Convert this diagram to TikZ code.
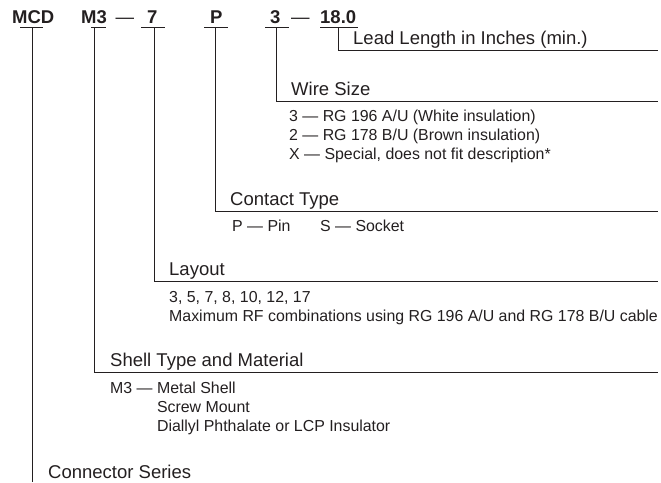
\documentclass[tikz,border=0pt]{standalone}
\usepackage{xcolor}
\usepackage{fontspec}
\setmainfont{Liberation Sans}
\usepackage{tikz}
\usetikzlibrary{positioning}
\definecolor{ink}{HTML}{231F20}

\begin{document}
\begin{tikzpicture}[
  x=1pt, y=-1pt,
  every node/.style={inner sep=0pt, anchor=base west, text=ink},
  code/.style={font=\fontsize{18.5}{22}\selectfont\bfseries},
  head/.style={font=\fontsize{18.5}{22}\selectfont},
  item/.style={font=\fontsize{15.9}{19}\selectfont},
  next/.style={below=19pt of #1.base west, anchor=base west},
  rule/.style={draw=ink, line width=1pt},
]
  \useasboundingbox (0,0) rectangle (661,482);

  % part number
  \node[code] (mcd)   at (12,23)    {MCD};
  \node[code] (m3)    at (81,23)    {M3};
  \node[head] (dsh1)  at (115.5,23) {—};
  \node[code] (seven) at (147,23)   {7};
  \node[code] (pin)   at (210,23)   {P};
  \node[code] (three) at (270,23)   {3};
  \node[head] (dsh2)  at (291,23)   {—};
  \node[code] (len)   at (320,23)   {18.0};

  \draw[rule] (20,27)  -- (43,27);
  \draw[rule] (91,27)  -- (106,27);
  \draw[rule] (141,27) -- (165,27);
  \draw[rule] (204,27) -- (228,27);
  \draw[rule] (265,27) -- (289,27);
  \draw[rule] (320,27) -- (358,27);

  \coordinate (t-mcd)   at (32,27);
  \coordinate (t-m3)    at (94,27);
  \coordinate (t-seven) at (154,27);
  \coordinate (t-pin)   at (215,27);
  \coordinate (t-three) at (276,27);
  \coordinate (t-len)   at (338,27);

  \coordinate (e-len)     at (658,50);
  \coordinate (e-wire)    at (658,101);
  \coordinate (e-contact) at (658,211);
  \coordinate (e-layout)  at (658,281);
  \coordinate (e-shell)   at (658,372);
  \coordinate (e-series)  at (32,482);

  \draw[rule] (t-len)   |- (e-len);
  \draw[rule] (t-three) |- (e-wire);
  \draw[rule] (t-pin)   |- (e-contact);
  \draw[rule] (t-seven) |- (e-layout);
  \draw[rule] (t-m3)    |- (e-shell);
  \draw[rule] (t-mcd)   -- (e-series);

  % lead length
  \node[head] (len-h) at (353,44.5) {Lead Length in Inches (min.)};

  % wire size
  \node[head] (wire-h) at (291,95.5) {Wire Size};
  \node[item] (w1) at (289,121.5) {3 — RG 196 A/U (White insulation)};
  \node[item, next=w1] (w2) {2 — RG 178 B/U (Brown insulation)};
  \node[item, next=w2] (w3) {X — Special, does not fit description*};

  % contact type
  \node[head] (contact-h) at (230,205.5) {Contact Type};
  \node[item] (c1) at (232,231) {P — Pin};
  \node[item] (c2) at (320,231) {S — Socket};

  % layout
  \node[head] (layout-h) at (169,275.5) {Layout};
  \node[item] (l1) at (169,302.5) {3, 5, 7, 8, 10, 12, 17};
  \node[item, next=l1] (l2)
        {Maximum RF combinations using RG 196 A/U and RG 178 B/U cable};

  % shell
  \node[head] (shell-h) at (110,366.5) {Shell Type and Material};
  \node[item] (s1) at (110,393.5) {M3 — Metal Shell};
  \node[item, next=s1] (s2) {\phantom{M3 — }Screw Mount};
  \node[item, next=s2] (s3) {\phantom{M3 — }Diallyl Phthalate or LCP Insulator};

  % series
  \node[head] (series-h) at (48,478) {Connector Series};
\end{tikzpicture}
\end{document}
